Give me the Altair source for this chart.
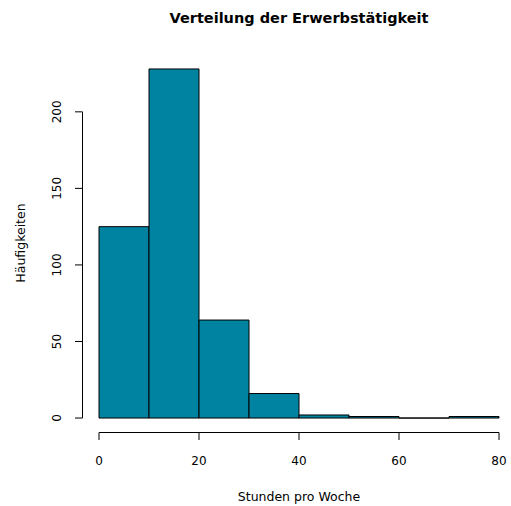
import altair as alt
import pandas as pd

# Histogram of weekly working hours (bins of width 10)
bin_start = [0, 10, 20, 30, 40, 50, 60, 70]
bin_end = [10, 20, 30, 40, 50, 60, 70, 80]
counts = [125, 228, 64, 16, 2, 1, 0, 1]

x_ticks = [0, 20, 40, 60, 80]
y_ticks = [0, 50, 100, 150, 200]

title_text = "Verteilung der Erwerbstätigkeit"
x_title = "Stunden pro Woche"
y_title = "Häufigkeiten"

W, H = 428, 377
FONT = "DejaVu Sans"
BAR_COLOR = "#0083A1"

xs = alt.Scale(domain=[-3.2, 82.4], nice=False, zero=False)
ys = alt.Scale(domain=[-9.12, 237.12], nice=False, zero=False)

bars_df = pd.DataFrame({"start": bin_start, "end": bin_end, "count": counts,
                        "base": [0] * len(counts)})
xt_df = pd.DataFrame({"v": x_ticks})
yt_df = pd.DataFrame({"v": y_ticks})
xline_df = pd.DataFrame({"a": [x_ticks[0]], "b": [x_ticks[-1]]})
yline_df = pd.DataFrame({"a": [y_ticks[0]], "b": [y_ticks[-1]]})

bars = alt.Chart(bars_df).mark_rect(
    fill=BAR_COLOR, stroke="black", strokeWidth=1
).encode(
    x=alt.X("start:Q", scale=xs, axis=None),
    x2="end:Q",
    y=alt.Y("count:Q", scale=ys, axis=None),
    y2="base:Q",
)

# x axis (drawn only between first and last tick)
x_line = alt.Chart(xline_df).mark_rule(color="black", strokeWidth=1).encode(
    x=alt.X("a:Q", scale=xs, axis=None), x2="b:Q", y=alt.value(H + 0.5)
)
x_tick_marks = alt.Chart(xt_df).mark_rule(color="black", strokeWidth=1).encode(
    x=alt.X("v:Q", scale=xs, axis=None), y=alt.value(H + 0.5), y2=alt.value(H + 8)
)
x_labels = alt.Chart(xt_df).mark_text(
    font=FONT, fontSize=12, color="black", baseline="middle", align="center"
).encode(
    x=alt.X("v:Q", scale=xs, axis=None), y=alt.value(406),
    text=alt.Text("v:Q", format="d"),
)

# y axis (drawn only between first and last tick)
y_line = alt.Chart(yline_df).mark_rule(color="black", strokeWidth=1).encode(
    y=alt.Y("a:Q", scale=ys, axis=None), y2="b:Q", x=alt.value(-0.5)
)
y_tick_marks = alt.Chart(yt_df).mark_rule(color="black", strokeWidth=1).encode(
    y=alt.Y("v:Q", scale=ys, axis=None), x=alt.value(-8), x2=alt.value(-0.5)
)
y_labels = alt.Chart(yt_df).mark_text(
    font=FONT, fontSize=12, color="black", baseline="middle", align="center", angle=270
).encode(
    y=alt.Y("v:Q", scale=ys, axis=None), x=alt.value(-26),
    text=alt.Text("v:Q", format="d"),
)

main_title = alt.Chart(pd.DataFrame({"t": [title_text]})).mark_text(
    font=FONT, fontSize=14.5, fontWeight="bold", color="black",
    baseline="middle", align="center"
).encode(x=alt.value(216), y=alt.value(-36), text="t:N")

x_title_mark = alt.Chart(pd.DataFrame({"t": [x_title]})).mark_text(
    font=FONT, fontSize=12.5, color="black", baseline="middle", align="center"
).encode(x=alt.value(216), y=alt.value(442), text="t:N")

y_title_mark = alt.Chart(pd.DataFrame({"t": [y_title]})).mark_text(
    font=FONT, fontSize=12.5, color="black", baseline="middle", align="center", angle=270
).encode(x=alt.value(-62), y=alt.value(188), text="t:N")

chart = alt.layer(
    bars, x_line, x_tick_marks, x_labels, y_line, y_tick_marks, y_labels,
    main_title, x_title_mark, y_title_mark,
).properties(
    width=W, height=H,
    autosize=alt.AutoSizeParams(type="none"),
    padding={"left": 83, "top": 55, "right": 0, "bottom": 74},
    background="white",
).configure_view(stroke=None)

chart.save("out.html", embed_options={"renderer": "svg", "actions": False})
